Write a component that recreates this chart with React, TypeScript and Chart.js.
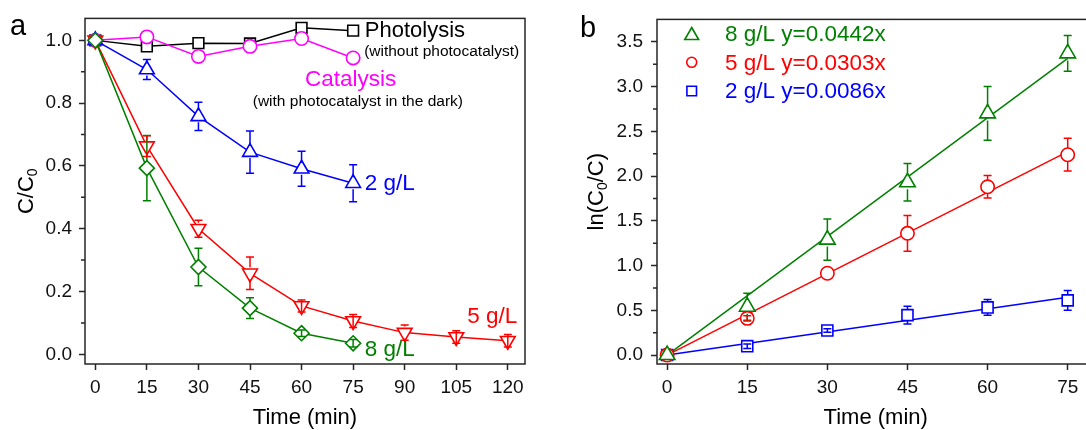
import React, { useEffect, useRef } from "react";
import { Chart, registerables } from "chart.js";

Chart.register(...registerables);

const FONT = "'Liberation Sans', Arial, Helvetica, sans-serif";
const AXIS = "#262626";
const TXT = "#111111";
const BLACK = "#000000";
const MAGENTA = "#ff00ff";
const BLUE = "#0000ff";
const RED = "#ff0000";
const GREEN = "#008000";

// ---------------- Panel a : C/C0 vs time ----------------
const timeA = [0, 15, 30, 45, 60, 75, 90, 105, 120];
const photolysisA = [1.0, 0.981, 0.991, 0.99, 1.04, 1.031];
const catalysisA = [1.0, 1.011, 0.949, 0.981, 1.006, 0.944];
const conc2A = [1.0, 0.907, 0.758, 0.644, 0.591, 0.545];
const conc2AErr = [0, 0.032, 0.045, 0.067, 0.056, 0.059];
const conc5A = [1.0, 0.663, 0.4, 0.258, 0.154, 0.106, 0.069, 0.055, 0.043];
const conc5AErr = [0, 0.033, 0.027, 0.052, 0.019, 0.021, 0.024, 0.02, 0.02];
const conc8A = [1.0, 0.593, 0.278, 0.147, 0.067, 0.035];
const conc8AErr = [0, 0.104, 0.06, 0.033, 0.01, 0.012];

const xTicksA = [0, 15, 30, 45, 60, 75, 90, 105, 120];
const yTicksA = [0, 0.2, 0.4, 0.6, 0.8, 1.0];
const yMinorA = [0.1, 0.3, 0.5, 0.7, 0.9];

// ---------------- Panel b : ln(C0/C) vs time ----------------
const timeB = [0, 15, 30, 45, 60, 75];
const ln8B = [0, 0.54, 1.29, 1.93, 2.7, 3.37];
const ln8BErr = [0, 0.15, 0.23, 0.21, 0.3, 0.2];
const ln5B = [0, 0.41, 0.914, 1.36, 1.88, 2.238];
const ln5BErr = [0, 0.03, 0, 0.2, 0.125, 0.183];
const ln2B = [0, 0.099, 0.274, 0.446, 0.532, 0.611];
const ln2BErr = [0, 0.025, 0.02, 0.1, 0.088, 0.11];
const slopesB = [0.0442, 0.0303, 0.0086];
const fitRangeB = [0, 75];
const legendB = ["8 g/L y=0.0442x", "5 g/L y=0.0303x", "2 g/L y=0.0086x"];

const xTicksB = [0, 15, 30, 45, 60, 75];
const yTicksB = [0, 0.5, 1.0, 1.5, 2.0, 2.5, 3.0, 3.5];
const yMinorB = [0.25, 0.75, 1.25, 1.75, 2.25, 2.75, 3.25];

type Note = { text: string; x: number; y: number; color: string; size: number };
type Part = { t: string; sub?: boolean };

function drawMarker(ctx: CanvasRenderingContext2D, style: string, x: number, y: number, r: number, color: string) {
  ctx.save();
  ctx.strokeStyle = color;
  ctx.fillStyle = "#ffffff";
  ctx.lineWidth = 1.6;
  ctx.beginPath();
  if (style === "triangle") {
    ctx.moveTo(x, y - r);
    ctx.lineTo(x + r * 0.866, y + r / 2);
    ctx.lineTo(x - r * 0.866, y + r / 2);
    ctx.closePath();
  } else if (style === "circle") {
    ctx.arc(x, y, r, 0, Math.PI * 2);
  } else {
    ctx.rect(x - r, y - r, 2 * r, 2 * r);
  }
  ctx.fill();
  ctx.stroke();
  ctx.restore();
}

function drawRotated(ctx: CanvasRenderingContext2D, cx: number, cy: number, parts: Part[], size: number) {
  ctx.save();
  ctx.translate(cx, cy);
  ctx.rotate(-Math.PI / 2);
  const big = `${size}px ${FONT}`;
  const small = `${Math.round(size * 0.64)}px ${FONT}`;
  const widths = parts.map((p) => {
    ctx.font = p.sub ? small : big;
    return ctx.measureText(p.t).width;
  });
  const total = widths.reduce((a, b) => a + b, 0);
  let x = -total / 2;
  ctx.fillStyle = BLACK;
  ctx.textAlign = "left";
  ctx.textBaseline = "alphabetic";
  const base = size * 0.36;
  parts.forEach((p, i) => {
    ctx.font = p.sub ? small : big;
    ctx.fillText(p.t, x, base + (p.sub ? size * 0.2 : 0));
    x += widths[i];
  });
  ctx.restore();
}

type DecorCfg = {
  minorY: number[];
  notes: Note[];
  yTitle: Part[];
  yTitleX: number;
  letter: string;
  letterX: number;
  letterY: number;
  legend?: { text: string; color: string; style: string; r: number; y: number }[];
  legendMarkerX?: number;
  legendTextX?: number;
};

function makeDecor(cfg: DecorCfg) {
  return {
    id: "decor",
    afterDatasetsDraw(chart: any) {
      const ctx: CanvasRenderingContext2D = chart.ctx;
      const { left, right, top, bottom } = chart.chartArea;
      const xs = chart.scales.x;
      const ys = chart.scales.y;

      // error bars
      chart.data.datasets.forEach((ds: any, i: number) => {
        const errs: number[] | undefined = ds.errors;
        if (!errs) return;
        const meta = chart.getDatasetMeta(i);
        ctx.save();
        ctx.strokeStyle = ds.borderColor;
        ctx.lineWidth = 1.5;
        meta.data.forEach((pt: any, j: number) => {
          const e = errs[j];
          if (!e) return;
          const v = ds.data[j].y;
          const yT = ys.getPixelForValue(v + e);
          const yB = ys.getPixelForValue(v - e);
          const x = pt.x;
          const y = pt.y;
          const gap = ds.errGap || 6;
          ctx.beginPath();
          if (y - yT > gap + 1) {
            ctx.moveTo(x, y - gap);
            ctx.lineTo(x, yT);
            ctx.moveTo(x, yB);
            ctx.lineTo(x, y + gap);
          } else {
            ctx.moveTo(x, yT);
            ctx.lineTo(x, yB);
          }
          ctx.moveTo(x - 4, yT);
          ctx.lineTo(x + 4, yT);
          ctx.moveTo(x - 4, yB);
          ctx.lineTo(x + 4, yB);
          ctx.stroke();
        });
        ctx.restore();
      });

      // frame and minor ticks
      ctx.save();
      ctx.strokeStyle = AXIS;
      ctx.lineWidth = 1.5;
      ctx.strokeRect(left, top, right - left, bottom - top);
      ctx.beginPath();
      cfg.minorY.forEach((v) => {
        const py = ys.getPixelForValue(v);
        ctx.moveTo(left - 4, py);
        ctx.lineTo(left, py);
      });
      ctx.stroke();
      ctx.restore();

      // annotations in data coordinates
      ctx.save();
      ctx.textAlign = "left";
      ctx.textBaseline = "middle";
      cfg.notes.forEach((n) => {
        ctx.font = `${n.size}px ${FONT}`;
        ctx.fillStyle = n.color;
        ctx.fillText(n.text, xs.getPixelForValue(n.x), ys.getPixelForValue(n.y));
      });
      ctx.restore();

      // legend (panel b)
      if (cfg.legend) {
        cfg.legend.forEach((l) => {
          const my = l.style === "triangle" ? l.y + l.r / 4 : l.y;
          drawMarker(ctx, l.style, cfg.legendMarkerX as number, my, l.r, l.color);
          ctx.save();
          ctx.font = `22.5px ${FONT}`;
          ctx.fillStyle = l.color;
          ctx.textAlign = "left";
          ctx.textBaseline = "middle";
          ctx.fillText(l.text, cfg.legendTextX as number, l.y + 1);
          ctx.restore();
        });
      }

      // axis titles
      ctx.save();
      ctx.font = `22px ${FONT}`;
      ctx.fillStyle = BLACK;
      ctx.textAlign = "center";
      ctx.textBaseline = "middle";
      ctx.fillText("Time (min)", (left + right) / 2, 418);
      ctx.restore();
      drawRotated(ctx, cfg.yTitleX, (top + bottom) / 2, cfg.yTitle, 22);

      // panel letter
      ctx.save();
      ctx.font = `29px ${FONT}`;
      ctx.fillStyle = BLACK;
      ctx.textAlign = "left";
      ctx.textBaseline = "alphabetic";
      ctx.fillText(cfg.letter, cfg.letterX, cfg.letterY);
      ctx.restore();
    },
  };
}

function pts(xs: number[], ys: number[]) {
  return ys.map((y, i) => ({ x: xs[i], y }));
}

function axisCommon(ticks: number[], digits: number | null, padding: number) {
  return {
    type: "linear" as const,
    afterBuildTicks: (s: any) => {
      s.ticks = ticks.map((v) => ({ value: v }));
    },
    grid: {
      display: true,
      drawOnChartArea: false,
      drawTicks: true,
      tickLength: 6,
      tickWidth: 1.5,
      tickColor: AXIS,
    },
    border: { display: false },
    ticks: {
      autoSkip: false,
      maxRotation: 0,
      padding,
      color: TXT,
      font: { family: FONT, size: 19 },
      callback: (v: any) => (digits === null ? String(v) : Number(v).toFixed(digits)),
    },
  };
}

function lineDs(label: string, data: any[], color: string, style: string, radius: number, extra: any = {}) {
  return {
    label,
    data,
    borderColor: color,
    backgroundColor: "#ffffff",
    pointBackgroundColor: "#ffffff",
    pointBorderColor: color,
    pointStyle: style,
    pointRadius: radius,
    pointBorderWidth: 1.6,
    borderWidth: 1.5,
    tension: 0,
    ...extra,
  };
}

export default function App() {
  const refA = useRef<HTMLCanvasElement>(null);
  const refB = useRef<HTMLCanvasElement>(null);

  useEffect(() => {
    const decorA = makeDecor({
      minorY: yMinorA,
      notes: [
        { text: "Photolysis", x: 78.4, y: 1.03, color: BLACK, size: 22 },
        { text: "(without photocatalyst)", x: 78.2, y: 0.964, color: BLACK, size: 15.5 },
        { text: "Catalysis", x: 61, y: 0.873, color: MAGENTA, size: 22.5 },
        { text: "(with photocatalyst in the dark)", x: 45.8, y: 0.804, color: BLACK, size: 15.5 },
        { text: "2 g/L", x: 78.4, y: 0.542, color: BLUE, size: 22.5 },
        { text: "5 g/L", x: 108.2, y: 0.12, color: RED, size: 22.5 },
        { text: "8 g/L", x: 78.4, y: 0.013, color: GREEN, size: 22.5 },
      ],
      yTitle: [{ t: "C/C" }, { t: "0", sub: true }],
      yTitleX: 25,
      letter: "a",
      letterX: 10,
      letterY: 35,
    });

    const chartA = new Chart(refA.current as HTMLCanvasElement, {
      type: "line",
      data: {
        datasets: [
          lineDs("8 g/L", pts(timeA, conc8A), GREEN, "rectRot", 7.5, { errors: conc8AErr, errGap: 7 }),
          lineDs("5 g/L", pts(timeA, conc5A), RED, "triangle", 8.5, { pointRotation: 180, errors: conc5AErr, errGap: 6 }),
          lineDs("2 g/L", pts(timeA, conc2A), BLUE, "triangle", 8.5, { errors: conc2AErr, errGap: 6 }),
          lineDs("Catalysis", pts(timeA, catalysisA), MAGENTA, "circle", 6.7),
          lineDs("Photolysis", pts(timeA, photolysisA), BLACK, "rect", 7.6),
        ],
      },
      options: {
        animation: false,
        responsive: false,
        devicePixelRatio: 1,
        events: [],
        layout: { padding: { left: 0, right: 20, top: 14, bottom: 0 } },
        plugins: { legend: { display: false }, tooltip: { enabled: false } },
        scales: {
          x: {
            ...axisCommon(xTicksA, null, 6),
            min: -3,
            max: 125,
            afterFit: (s: any) => {
              s.height = 66;
            },
          },
          y: {
            ...axisCommon(yTicksA, 1, 7),
            min: -0.031,
            max: 1.07,
            afterFit: (s: any) => {
              s.width = 85;
            },
          },
        },
      } as any,
      plugins: [decorA as any],
    });

    const decorB = makeDecor({
      minorY: yMinorB,
      notes: [],
      yTitle: [{ t: "ln(C" }, { t: "0", sub: true }, { t: "/C)" }],
      yTitleX: 50,
      letter: "b",
      letterX: 35,
      letterY: 37,
      legend: [
        { text: legendB[0], color: GREEN, style: "triangle", r: 8, y: 33.5 },
        { text: legendB[1], color: RED, style: "circle", r: 5, y: 62.3 },
        { text: legendB[2], color: BLUE, style: "rect", r: 4.8, y: 91 },
      ],
      legendMarkerX: 146.7,
      legendTextX: 180,
    });

    const fit = (k: number) => fitRangeB.map((x) => ({ x, y: k * x }));

    const chartB = new Chart(refB.current as HTMLCanvasElement, {
      type: "scatter",
      data: {
        datasets: [
          lineDs("8 g/L", pts(timeB, ln8B), GREEN, "triangle", 9, { showLine: false, errors: ln8BErr, errGap: 7 }),
          lineDs("5 g/L", pts(timeB, ln5B), RED, "circle", 6.7, { showLine: false, errors: ln5BErr, errGap: 6.5 }),
          lineDs("2 g/L", pts(timeB, ln2B), BLUE, "rect", 7.8, { showLine: false, errors: ln2BErr, errGap: 5.5 }),
          lineDs("fit 8", fit(slopesB[0]), GREEN, "circle", 0, { showLine: true }),
          lineDs("fit 5", fit(slopesB[1]), RED, "circle", 0, { showLine: true }),
          lineDs("fit 2", fit(slopesB[2]), BLUE, "circle", 0, { showLine: true }),
        ],
      },
      options: {
        animation: false,
        responsive: false,
        devicePixelRatio: 1,
        events: [],
        layout: { padding: { left: 0, right: 10, top: 14, bottom: 0 } },
        plugins: { legend: { display: false }, tooltip: { enabled: false } },
        scales: {
          x: {
            ...axisCommon(xTicksB, null, 6),
            min: -1.9,
            max: 80,
            afterFit: (s: any) => {
              s.height = 66;
            },
          },
          y: {
            ...axisCommon(yTicksB, 1, 8),
            min: -0.1,
            max: 3.75,
            afterFit: (s: any) => {
              s.width = 112;
            },
          },
        },
      } as any,
      plugins: [decorB as any],
    });

    return () => {
      chartA.destroy();
      chartB.destroy();
    };
  }, []);

  return (
    <div
      style={{
        position: "absolute",
        left: 0,
        top: 0,
        width: 1086,
        height: 430,
        overflow: "hidden",
        background: "#ffffff",
      }}
    >
      <canvas
        ref={refA}
        width={545}
        height={430}
        style={{ position: "absolute", left: 0, top: 0, width: 545, height: 430 }}
      />
      <canvas
        ref={refB}
        width={560}
        height={430}
        style={{ position: "absolute", left: 545, top: 0, width: 560, height: 430 }}
      />
    </div>
  );
}
